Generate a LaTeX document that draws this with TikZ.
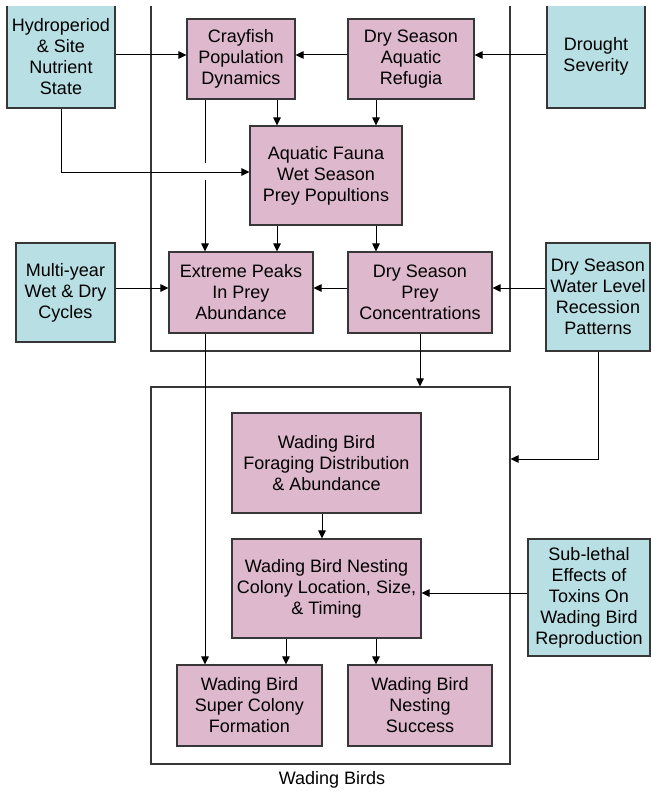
\documentclass[tikz,border=0pt]{standalone}
\usepackage{fontspec}
\setmainfont{Liberation Sans}
\usetikzlibrary{arrows.meta}
\definecolor{pinkbox}{RGB}{222,184,205}
\definecolor{cyanbox}{RGB}{184,223,228}
\definecolor{edgegray}{RGB}{55,55,55}
\tikzset{
	procbox/.style={draw=edgegray, line width=1.1pt, fill=pinkbox, align=center, inner sep=0pt, font=\fontsize{18}{21}\selectfont},
	drivbox/.style={procbox, fill=cyanbox},
	arr/.style={-{Triangle[length=8pt,width=7.5pt]}, line width=1pt},
	framebox/.style={draw=edgegray, line width=1.1pt, inner sep=0pt}
}

\begin{document}
\begin{tikzpicture}[x=1pt, y=-1pt]
			%%%%% START %%%%%
			\useasboundingbox (0, 0) rectangle (651, 792);
			\begin{scope}
			\clip (0, 7) rectangle (651, 792);
			
			\coordinate (colA) at (205, 0);
			\coordinate (colB) at (277, 0);
			\coordinate (colC) at (376, 0);
			\coordinate (colD) at (322, 0);
			\coordinate (colE) at (286, 0);
			\coordinate (rowA) at (0, 55);
			\coordinate (rowB) at (0, 288);
			\coordinate (rowC) at (0, 593);
			\coordinate (bendA) at (0, 172);
			\coordinate (bendB) at (0, 459);
			\coordinate (gapTop) at (0, 163);
			\coordinate (gapBot) at (0, 180);
			
			%% frames
			\draw[framebox] (151, 0) -- (151, 351) -- (510, 351) -- (510, 0);
			\node[framebox, minimum width=359pt, minimum height=377pt] (lowframe) at (330.5, 575.5) {};
			\node[font=\fontsize{18}{21}\selectfont] (wblabel) at (332, 780) {Wading Birds};
			
			%% drivers
			\node[drivbox, minimum width=108pt, minimum height=103pt] (hydro) at (61, 56.5) {Hydroperiod\\\& Site\\Nutrient\\State};
			\node[drivbox, minimum width=98pt, minimum height=103pt] (drought) at (596, 56.5) {Drought\\Severity};
			\node[drivbox, minimum width=99pt, minimum height=99pt] (multi) at (65.5, 292.5) {Multi-year\\Wet \& Dry\\Cycles};
			\node[drivbox, minimum width=104pt, minimum height=108pt] (water) at (598, 297) {Dry Season\\Water Level\\Recession\\Patterns};
			\node[drivbox, minimum width=122pt, minimum height=117pt] (toxin) at (589, 597.5) {Sub-lethal\\Effects of\\Toxins On\\Wading Bird\\Reproduction};
			
			%% prey base
			\node[procbox, minimum width=108pt, minimum height=80pt] (cray) at (241, 59) {Crayfish\\Population\\Dynamics};
			\node[procbox, minimum width=126pt, minimum height=80pt] (refug) at (411, 59) {Dry Season\\Aquatic\\Refugia};
			\node[procbox, minimum width=152pt, minimum height=99pt] (fauna) at (326, 175.5) {Aquatic Fauna\\Wet Season\\Prey Popultions};
			\node[procbox, minimum width=144pt, minimum height=81pt] (peaks) at (241, 292.5) {Extreme Peaks\\In Prey\\Abundance};
			\node[procbox, minimum width=144pt, minimum height=81pt] (conc) at (420, 292.5) {Dry Season\\Prey\\Concentrations};
			
			%% wading birds
			\node[procbox, minimum width=189pt, minimum height=100pt] (forage) at (326.5, 463) {Wading Bird\\Foraging Distribution\\\& Abundance};
			\node[procbox, minimum width=189pt, minimum height=99pt] (colony) at (326.5, 588.5) {Wading Bird Nesting\\Colony Location, Size,\\\& Timing};
			\node[procbox, minimum width=145pt, minimum height=81pt] (super) at (249.5, 705.5) {Wading Bird\\Super Colony\\Formation};
			\node[procbox, minimum width=144pt, minimum height=81pt] (success) at (420, 705.5) {Wading Bird\\Nesting\\Success};
			
			%% connectors
			\draw[arr] (hydro.east |- rowA) -- (cray.west |- rowA);
			\draw[arr] (refug.west |- rowA) -- (cray.east |- rowA);
			\draw[arr] (drought.west |- rowA) -- (refug.east |- rowA);
			\draw[arr] (cray.south -| colB) -- (fauna.north -| colB);
			\draw[arr] (refug.south -| colC) -- (fauna.north -| colC);
			\draw[arr] (hydro.south) -- (hydro.south |- bendA) -- (fauna.west |- bendA);
			\draw[line width=1pt] (cray.south -| colA) -- (gapTop -| colA);
			\draw[arr] (gapBot -| colA) -- (peaks.north -| colA);
			\draw[arr] (fauna.south -| colB) -- (peaks.north -| colB);
			\draw[arr] (fauna.south -| colC) -- (conc.north -| colC);
			
			\draw[arr] (multi.east |- rowB) -- (peaks.west |- rowB);
			\draw[arr] (conc.west |- rowB) -- (peaks.east |- rowB);
			\draw[arr] (water.west |- rowB) -- (conc.east |- rowB);
			\draw[arr] (conc.south) -- (lowframe.north -| conc.south);
			\draw[arr] (water.south) -- (water.south |- bendB) -- (lowframe.east |- bendB);
			\draw[arr] (peaks.south -| colA) -- (super.north -| colA);
			
			\draw[arr] (forage.south -| colD) -- (colony.north -| colD);
			\draw[arr] (toxin.west |- rowC) -- (colony.east |- rowC);
			\draw[arr] (colony.south -| colE) -- (super.north -| colE);
			\draw[arr] (colony.south -| colC) -- (success.north -| colC);
			
			\end{scope}
			%%%%% END %%%%%
\end{tikzpicture}
\end{document}
